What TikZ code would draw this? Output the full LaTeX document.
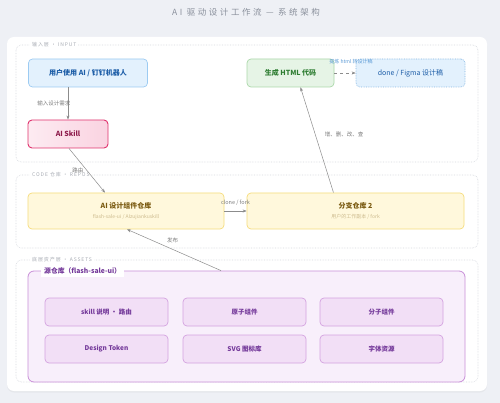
\documentclass[tikz,border=0pt]{standalone}
\usepackage{fontspec}
\setmainfont{Noto Sans CJK SC}
\newfontfamily\spacedfont[LetterSpace=18]{Noto Sans CJK SC}
\newfontfamily\widefont[LetterSpace=30]{Noto Sans CJK SC}
\usepackage{tikz}
\usetikzlibrary{arrows.meta}
\usetikzlibrary{shadows}

\definecolor{pagebg}{HTML}{EEF0F5}
\definecolor{titlegray}{HTML}{8A909C}
\definecolor{layergray}{HTML}{D5D8DE}
\definecolor{layertext}{HTML}{A8ACB4}
\definecolor{linegray}{HTML}{8C8C8C}
\definecolor{userfill}{HTML}{E3F1FD}
\definecolor{userdraw}{HTML}{9CCBF2}
\definecolor{usertext}{HTML}{1F5FA8}
\definecolor{skillfill}{HTML}{FAD3E1}
\definecolor{skilldraw}{HTML}{E0336E}
\definecolor{skilltext}{HTML}{8E1C4C}
\definecolor{htmlfill}{HTML}{E6F4E6}
\definecolor{htmldraw}{HTML}{ABD8AA}
\definecolor{htmltext}{HTML}{2E7D32}
\definecolor{repofill}{HTML}{FFF8DC}
\definecolor{repodraw}{HTML}{F6DC7C}
\definecolor{repotext}{HTML}{7A5A10}
\definecolor{reposub}{HTML}{CDBB8E}
\definecolor{srcfill}{HTML}{F8EFFB}
\definecolor{srcdraw}{HTML}{C98FD8}
\definecolor{cellfill}{HTML}{F2DFF6}
\definecolor{celldraw}{HTML}{D4A3E0}
\definecolor{celltext}{HTML}{74399A}
\definecolor{notetext}{HTML}{5C9BD6}

\tikzset{
  layer/.style={draw=layergray, densely dotted, rounded corners=5pt, line width=0.6pt},
  layerlabel/.style={fill=white, inner sep=2pt, anchor=west, text=layertext,
    font=\spacedfont\fontsize{5}{6}\selectfont},
  box/.style={rounded corners=4pt, line width=0.7pt, align=center,
    font=\fontsize{7}{8.5}\selectfont\bfseries},
  userbox/.style={box, fill=userfill, draw=userdraw, text=usertext},
  skillbox/.style={box, draw=skilldraw, text=skilltext, line width=0.9pt,
    left color=skillfill!45, right color=skillfill},
  htmlbox/.style={box, fill=htmlfill, draw=htmldraw, text=htmltext},
  designbox/.style={box, fill=userfill, draw=userdraw!80!usertext, densely dotted,
    text=usertext, font=\fontsize{7}{8.5}\selectfont},
  repobox/.style={box, fill=repofill, draw=repodraw, text=repotext},
  srcbox/.style={rounded corners=6pt, fill=srcfill, draw=srcdraw, line width=0.8pt},
  cell/.style={box, fill=cellfill, draw=celldraw, text=celltext,
    minimum width=123pt, minimum height=28pt, font=\fontsize{6.5}{8}\selectfont\bfseries},
  flow/.style={draw=linegray, line width=0.5pt, -{Stealth[length=4pt,width=3pt]}},
  flowlabel/.style={font=\fontsize{5.5}{6.5}\selectfont, text=linegray!90!black},
}

\begin{document}
\begin{tikzpicture}[x=1pt, y=-1pt]
  % canvas
  \fill[pagebg] (0,0) rectangle (500,403);
  \useasboundingbox (0,0) rectangle (500,403);
  \node[font=\widefont\fontsize{8.5}{10}\selectfont, text=titlegray] (title) at (246,12)
    {AI 驱动设计工作流 — 系统架构};

  % main panel
  \fill[white, rounded corners=7pt, drop shadow={opacity=0.08, shadow xshift=0pt, shadow yshift=-1.5pt}]
    (7,37) rectangle (487,391);

  % layers
  \draw[layer] (16,45) rectangle (478,162);
  \draw[layer] (16,175) rectangle (478,248);
  \draw[layer] (16,260) rectangle (478,382);
  \node[layerlabel] (inlabel) at (30,45) {输入层 · INPUT};
  \node[layerlabel] (codelabel) at (30,175) {CODE 仓库 · REPOS};
  \node[layerlabel] (assetlabel) at (30,260) {底层资产层 · ASSETS};

  % input layer
  \node[userbox, minimum width=119pt, minimum height=28pt] (user) at (88,73) {用户使用 AI / 钉钉机器人};
  \node[skillbox, minimum width=80pt, minimum height=28pt] (skill) at (68,134) {AI Skill};
  \node[htmlbox, minimum width=87pt, minimum height=28pt] (html) at (290.5,73) {生成 HTML 代码};
  \node[designbox, minimum width=109pt, minimum height=28pt] (design) at (410.5,73) {done / Figma 设计稿};

  % repos layer
  \node[repobox, minimum width=196pt, minimum height=36pt] (comp) at (126,211)
    {AI 设计组件仓库\\[1pt]{\fontsize{5}{6}\selectfont\mdseries\color{reposub}flash-sale-ui / AIzujiankuskill}};
  \node[repobox, minimum width=217pt, minimum height=36pt] (branch) at (355.5,211)
    {分支仓库 2\\[1pt]{\fontsize{5}{6}\selectfont\mdseries\color{reposub}用户的工作副本 / fork}};

  % assets layer
  \node[srcbox, minimum width=437pt, minimum height=111pt] (src) at (246.5,326.5) {};
  \node[fill=white, inner sep=3pt, anchor=west, text=celltext,
    font=\fontsize{6.8}{8}\selectfont\bfseries] (srclabel) at (41,271) {源仓库（flash-sale-ui）};
  \node[cell] (skilldoc) at (106.5,312) {skill 说明 · 路由};
  \node[cell] (atom) at (244.5,312) {原子组件};
  \node[cell] (molecule) at (381.5,312) {分子组件};
  \node[cell] (token) at (106.5,349) {Design Token};
  \node[cell] (svg) at (244.5,349) {SVG 图标库};
  \node[cell] (fonts) at (381.5,349) {字体资源};

  % connectors
  \draw[flow] (user.south -| skill.north) -- (skill.north)
    node[flowlabel, midway, left=-6pt] {输入设计需求};
  \draw[flow] ([xshift=1pt]skill.south) -- ([xshift=-21pt]comp.north)
    node[flowlabel, pos=0.5, left=0pt] {路由};
  \draw[flow] (comp.east) -- (branch.west)
    node[flowlabel, midway, above=2pt] {clone / fork};
  \draw[flow] ([xshift=-22pt]branch.north) -- ([xshift=10pt]html.south)
    node[flowlabel, pos=0.55, right=6pt] {增、删、改、查};
  \draw[flow] ([xshift=-25.5pt]src.north) -- ([xshift=1pt]comp.south)
    node[flowlabel, pos=0.6, above right=-1pt] {发布};
  \draw[flow, dashed] (html.east) -- (design.west)
    node[flowlabel, midway, above=5pt, text=notetext, xshift=6pt,
      font=\fontsize{5}{6}\selectfont] {提炼 html 转设计稿};
\end{tikzpicture}
\end{document}
